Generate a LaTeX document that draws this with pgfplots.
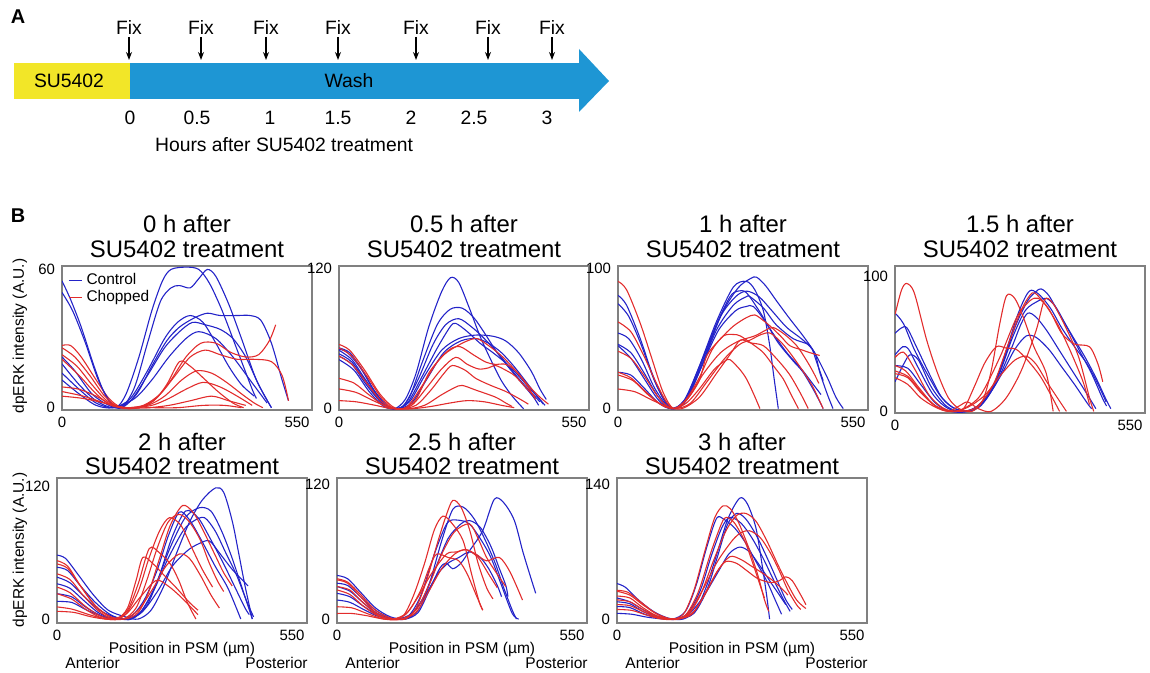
\documentclass[border=0pt]{standalone}
\usepackage{fontspec}
\setmainfont{Liberation Sans}
\usepackage{pgfplots}
\pgfplotsset{compat=1.18}
\usetikzlibrary{arrows.meta}
\definecolor{cblue}{RGB}{35,35,200}
\definecolor{cred}{RGB}{226,44,44}
\definecolor{suyel}{RGB}{242,230,40}
\definecolor{washb}{RGB}{30,150,212}
\newcommand{\fs}[1]{\fontsize{#1}{#1}\selectfont}

\pgfplotsset{
  psm/.style={scale only axis, width=125bp, anchor=south west,
    xmin=0, xmax=585, xtick={0,550}, major tick length=0pt,
    axis line style={draw=gray, line width=0.6pt},
    tick label style={font=\fs{7.5}},
    /pgf/number format/assume math mode=true},
  ctlL/.style={color=cblue, line width=0.55pt, smooth, mark=none},
  chpL/.style={color=cred, line width=0.55pt, smooth, mark=none},
  ctl/.style={ctlL, forget plot},
  chp/.style={chpL, forget plot},
}

\begin{document}
\begin{tikzpicture}[x=0.5bp,y=0.5bp]
\useasboundingbox (0,0) rectangle (1150,672);

% ---------- panel A ----------
\node[font=\bfseries\fs{10}] at (18,655) {A};
\fill[suyel] (14,609) rectangle (130,573);
\fill[washb] (130,609) rectangle (580,573);
\fill[washb] (579,623) -- (609,591) -- (579,560) -- cycle;
\node[font=\fs{9.7}] at (69,591) {SU5402};
\node[font=\fs{9.7}] at (349,591) {Wash};
\foreach \x in {129,201,266,338,416,488,552}{
  \node[font=\fs{9.7}, anchor=base] at (\x,637) {Fix};
  \draw[line width=0.6pt, -{Stealth[length=4bp,width=3bp]}] (\x,635) -- (\x,612);
}
\foreach \x/\t in {130/0,197/0.5,270/1,338/1.5,411/2,474/2.5,547/3}
  \node[font=\fs{9.7}, anchor=base] at (\x,547) {\t};
\node[font=\fs{9.7}, anchor=base] at (284,520) {Hours after SU5402 treatment};

% ---------- panel B ----------
\node[font=\bfseries\fs{10}] at (18,456) {B};

% 0 h
\begin{axis}[psm, name=a1, at={(31bp,131bp)}, height=72bp, ymin=-1, ymax=61.5, ytick={0,60},
  legend style={at={(0,1)}, anchor=north west, xshift=3bp, yshift=-1.5bp, draw=none, fill=none,
    font=\fs{7.75}, row sep=-2.5bp, inner sep=0pt},
  legend cell align=left,
  legend image code/.code={\draw[#1, line width=0.6pt] (0bp,0bp) -- (6.5bp,0bp);}]
\addplot[ctlL] coordinates {(0,55)(20,47)(45,35)(75,18)(100,6)(125,0)(150,6)(180,22)(210,42)(235,55)(255,60)(290,61)(320,60)(345,54)(375,42)(410,25)(445,8)(455,4)};
\addplot[chpL] coordinates {(0,27)(20,27)(45,22)(80,12)(110,4)(140,0)(180,0)(215,3)(245,10)(275,20)(300,18)(330,13)(365,7)(400,2)(425,0)};
\legend{Control,Chopped}
\addplot[ctl] coordinates {(0,50)(25,42)(55,28)(85,12)(115,2)(140,0)(170,9)(200,28)(230,46)(255,52)(275,53)(300,52)(320,56)(340,60)(360,57)(390,45)(420,30)(455,12)(490,0)};
\addplot[ctl] coordinates {(0,22)(30,16)(70,6)(110,1)(140,0)(175,6)(210,18)(245,29)(275,35)(310,39)(340,41)(370,40)(410,40)(440,40)(465,38)(490,28)(515,12)(530,3)};
\addplot[ctl] coordinates {(0,19)(40,10)(80,3)(120,0)(160,3)(200,14)(240,26)(275,33)(305,37)(335,36)(370,34)(400,30)(430,22)(460,10)(490,0)};
\addplot[ctl] coordinates {(0,15)(40,8)(80,2)(120,0)(160,4)(200,16)(240,30)(270,37)(300,40)(330,37)(360,28)(390,18)(420,10)(450,5)};
\addplot[ctl] coordinates {(0,12)(40,6)(80,1)(120,0)(170,4)(210,12)(250,22)(290,30)(320,33)(360,30)(400,22)(440,12)(480,2)};
\addplot[chp] coordinates {(0,26)(30,22)(65,14)(100,5)(135,0)(180,0)(220,4)(255,12)(290,22)(325,28)(360,28)(395,24)(430,22)(460,23)(485,29)(500,36)};
\addplot[chp] coordinates {(0,23)(35,18)(70,10)(105,3)(140,0)(190,1)(230,6)(265,14)(300,22)(335,25)(370,23)(410,21)(450,21)(490,20)(515,14)(530,3)};
\addplot[chp] coordinates {(0,21)(40,14)(80,6)(115,1)(150,0)(200,1)(240,5)(280,12)(315,16)(350,15)(385,11)(420,6)(450,2)(470,0)};
\addplot[chp] coordinates {(0,9)(40,8)(80,5)(120,1)(160,0)(210,1)(250,4)(290,8)(330,11)(370,9)(410,5)(445,1)};
\addplot[chp] coordinates {(0,7)(50,5)(100,2)(140,0)(200,0)(250,1)(300,3)(350,5)(390,3)(430,1)};
\addplot[chp] coordinates {(0,5)(50,4)(100,2)(150,0)(210,0)(270,0)(330,1)(380,1)(420,0)};
\end{axis}

% 0.5 h
\begin{axis}[psm, name=a2, at={(169.5bp,131bp)}, height=72bp, ymin=-1, ymax=122, ytick={0,120}]
\addplot[ctl] coordinates {(0,51)(20,48)(50,35)(80,17)(110,3)(130,0)(155,8)(180,30)(210,70)(240,100)(261,112)(280,108)(305,86)(330,62)(355,42)(380,24)(405,11)(432,0)};
\addplot[ctl] coordinates {(0,52)(25,48)(55,33)(85,14)(115,2)(140,0)(165,10)(195,40)(230,72)(260,85)(288,86)(315,78)(340,65)(370,48)(400,34)(430,21)(455,10)(467,3)};
\addplot[ctl] coordinates {(0,50)(30,42)(60,26)(95,8)(125,0)(150,2)(185,25)(220,55)(250,72)(280,77)(310,70)(340,60)(380,44)(420,26)(450,14)(470,6)};
\addplot[ctl] coordinates {(0,45)(30,38)(65,20)(100,5)(130,0)(160,5)(195,28)(230,52)(260,70)(273,73)(300,66)(330,56)(360,48)(400,36)(440,20)(470,8)(482,3)};
\addplot[ctl] coordinates {(0,47)(30,40)(65,22)(100,5)(130,0)(165,6)(200,28)(240,50)(280,60)(320,63)(360,62)(390,58)(420,48)(450,32)(470,17)(485,8)};
\addplot[ctl] coordinates {(0,42)(35,33)(70,15)(105,2)(135,0)(170,5)(205,25)(245,48)(285,58)(320,60)(350,56)(380,48)(410,36)(440,22)(465,10)(478,4)};
\addplot[chp] coordinates {(0,55)(25,50)(60,33)(95,13)(125,2)(150,0)(180,8)(211,31)(245,46)(273,53)(300,58)(323,60)(350,54)(381,45)(410,34)(443,20)(470,10)(490,4)};
\addplot[chp] coordinates {(0,52)(30,45)(65,28)(100,9)(130,0)(160,2)(195,20)(230,40)(260,51)(284,53)(315,46)(343,40)(365,38)(390,38)(415,32)(440,20)(460,8)};
\addplot[chp] coordinates {(0,45)(30,38)(65,22)(100,6)(135,0)(170,3)(205,18)(240,34)(273,44)(300,38)(327,34)(350,35)(366,37)(390,33)(412,28)(440,17)(459,10)};
\addplot[chp] coordinates {(0,26)(35,22)(70,12)(105,3)(140,0)(180,3)(215,16)(245,30)(265,37)(295,33)(320,26)(355,20)(389,15)(420,9)(443,4)};
\addplot[chp] coordinates {(0,17)(40,14)(80,7)(120,1)(160,0)(200,3)(240,12)(270,18)(288,20)(320,16)(366,10)(390,5)(405,2)};
\addplot[chp] coordinates {(0,7)(40,6)(85,3)(125,0)(170,0)(215,2)(260,5)(300,7)(340,6)(380,3)(410,1)};
\end{axis}

% 1 h
\begin{axis}[psm, name=a3, at={(309bp,131bp)}, height=72bp, ymin=-1, ymax=102, ytick={0,100}]
\addplot[ctl] coordinates {(0,81)(20,74)(52,50)(80,25)(105,8)(130,0)(160,8)(190,30)(230,62)(270,87)(300,91)(320,85)(340,70)(355,45)(365,22)(375,0)};
\addplot[ctl] coordinates {(0,75)(25,66)(55,45)(85,20)(110,5)(130,0)(160,6)(195,30)(240,66)(280,86)(310,93)(324,94)(345,88)(371,77)(400,65)(433,52)(460,40)(490,22)(510,8)(527,0)};
\addplot[ctl] coordinates {(0,54)(25,50)(55,35)(85,15)(115,2)(135,0)(165,10)(200,36)(240,66)(275,80)(301,84)(330,80)(360,70)(395,58)(433,49)(460,40)(472,26)(490,10)(503,0)};
\addplot[ctl] coordinates {(0,46)(30,40)(60,26)(95,8)(125,0)(155,4)(190,26)(230,56)(270,74)(300,80)(309,80)(340,72)(370,60)(410,50)(449,45)(465,33)(480,20)};
\addplot[ctl] coordinates {(0,45)(30,36)(60,22)(95,6)(125,0)(155,5)(195,30)(235,56)(275,70)(300,73)(317,73)(345,62)(375,47)(410,34)(433,26)(460,12)(480,0)};
\addplot[ctl] coordinates {(0,26)(30,24)(60,15)(95,4)(125,0)(155,6)(190,30)(230,60)(262,80)(280,84)(300,83)(330,70)(360,55)(395,40)(430,28)(455,18)(475,10)};
\addplot[chp] coordinates {(0,91)(20,85)(52,61)(80,35)(105,12)(130,0)(160,6)(190,20)(208,38)(240,50)(270,59)(300,65)(320,67)(340,63)(356,59)(380,52)(402,45)(430,42)(449,40)(472,38)};
\addplot[chp] coordinates {(0,62)(30,55)(60,38)(90,18)(115,4)(135,0)(165,8)(200,25)(240,40)(280,48)(320,52)(345,56)(363,58)(390,53)(418,45)(440,35)(457,26)(470,18)};
\addplot[chp] coordinates {(0,41)(30,36)(60,24)(95,8)(125,0)(155,5)(190,22)(220,42)(247,52)(270,53)(286,52)(315,46)(340,40)(365,30)(387,21)(405,10)(422,0)};
\addplot[chp] coordinates {(0,26)(30,22)(65,12)(100,3)(130,0)(160,4)(190,14)(225,28)(250,34)(262,35)(285,28)(301,21)(318,10)(332,0)};
\addplot[chp] coordinates {(0,24)(35,20)(70,10)(105,2)(135,0)(170,4)(210,20)(250,36)(285,46)(309,49)(335,53)(356,54)(380,48)(402,40)(430,28)(455,16)(480,0)};
\addplot[chp] coordinates {(0,14)(40,12)(80,6)(120,1)(150,0)(190,8)(230,25)(265,40)(286,49)(310,47)(340,45)(370,36)(400,25)(425,12)(445,0)};
\end{axis}

% 1.5 h
\begin{axis}[psm, name=a4, at={(447.5bp,129.5bp)}, height=73.5bp, ymin=-1.2, ymax=108, ytick={0,100}]
\addplot[ctl] coordinates {(0,73)(20,65)(45,46)(75,28)(105,12)(135,3)(170,0)(200,4)(230,18)(260,45)(285,70)(305,85)(319,90)(340,86)(365,76)(390,62)(420,48)(450,35)(475,20)(494,7)};
\addplot[ctl] coordinates {(0,58)(15,62)(28,62)(50,48)(80,28)(110,10)(140,2)(175,0)(210,8)(245,30)(280,62)(310,82)(330,89)(342,91)(360,86)(385,72)(415,56)(445,40)(470,25)(495,8)(505,2)};
\addplot[ctl] coordinates {(0,42)(18,48)(32,46)(55,32)(90,12)(125,2)(165,0)(200,6)(240,25)(275,55)(305,75)(335,82)(354,84)(375,78)(400,64)(430,46)(460,28)(485,10)(495,4)};
\addplot[ctl] coordinates {(0,22)(20,35)(35,42)(55,38)(85,18)(120,4)(155,0)(195,4)(235,20)(270,45)(295,65)(311,73)(330,70)(355,60)(385,45)(415,30)(445,15)(470,2)};
\addplot[ctl] coordinates {(0,34)(30,32)(60,20)(95,6)(130,0)(170,0)(210,8)(250,28)(280,46)(307,56)(330,55)(360,46)(390,33)(420,20)(450,6)(460,2)};
\addplot[chp] coordinates {(0,72)(15,90)(27,95)(45,88)(74,53)(100,28)(125,10)(150,2)(180,0)(205,8)(225,30)(245,65)(261,86)(280,84)(300,70)(325,48)(354,28)(370,0)};
\addplot[chp] coordinates {(0,40)(20,44)(45,32)(80,12)(115,2)(150,0)(190,3)(230,20)(265,50)(295,75)(315,86)(327,88)(350,80)(380,65)(410,45)(440,22)(455,5)};
\addplot[chp] coordinates {(0,34)(25,30)(55,18)(90,5)(125,0)(160,2)(200,12)(245,40)(285,70)(315,82)(335,84)(360,76)(390,58)(420,50)(455,48)(475,35)(486,22)};
\addplot[chp] coordinates {(0,30)(30,26)(60,15)(95,4)(130,0)(160,2)(185,18)(210,36)(237,48)(260,47)(284,46)(310,38)(340,26)(365,12)(385,0)};
\addplot[chp] coordinates {(0,28)(30,25)(60,14)(95,4)(135,0)(170,3)(210,12)(250,28)(280,38)(307,41)(330,35)(355,22)(380,10)(401,0)};
\addplot[chp] coordinates {(0,25)(30,20)(60,10)(95,3)(125,0)(150,4)(170,7)(195,2)(225,0)(260,10)(295,30)(330,60)(350,83)(370,80)(400,62)(430,40)(455,10)(465,0)};
\end{axis}

% 2 h
\begin{axis}[psm, name=a5, at={(28.5bp,24.5bp)}, height=72.5bp, ymin=-3.6, ymax=128, ytick={0,120}]
\addplot[ctl] coordinates {(0,58)(20,55)(50,40)(85,22)(120,8)(160,2)(190,0)(220,8)(250,30)(280,60)(310,88)(340,108)(371,119)(390,115)(410,89)(425,60)(440,30)(457,0)};
\addplot[ctl] coordinates {(0,47)(25,44)(55,30)(90,15)(125,4)(160,0)(195,6)(230,30)(265,65)(300,92)(333,101)(360,98)(385,80)(410,55)(440,20)(457,0)};
\addplot[ctl] coordinates {(0,38)(30,33)(65,20)(100,8)(140,1)(175,0)(210,12)(240,40)(270,75)(301,98)(330,92)(360,72)(390,50)(415,30)(440,10)(450,4)};
\addplot[ctl] coordinates {(0,32)(30,28)(65,16)(100,5)(140,0)(175,3)(205,18)(235,45)(260,75)(286,97)(310,90)(340,70)(370,48)(400,28)(430,0)};
\addplot[ctl] coordinates {(0,23)(35,20)(70,10)(110,2)(150,0)(190,4)(225,25)(260,55)(295,80)(320,89)(345,92)(370,80)(395,60)(420,40)(445,15)(460,2)};
\addplot[ctl] coordinates {(0,16)(35,15)(70,8)(110,2)(150,0)(195,5)(235,25)(270,48)(305,62)(330,68)(356,71)(380,60)(410,45)(435,35)(447,30)};
\addplot[chp] coordinates {(0,53)(25,48)(55,30)(90,12)(125,2)(160,0)(190,6)(215,25)(240,55)(265,85)(294,103)(320,96)(345,78)(370,58)(390,42)(410,30)};
\addplot[chp] coordinates {(0,50)(25,46)(55,30)(90,12)(125,2)(155,0)(185,10)(210,35)(235,65)(260,88)(286,95)(310,88)(335,72)(355,52)(375,35)(390,25)};
\addplot[chp] coordinates {(0,41)(30,36)(60,22)(95,8)(130,0)(160,4)(190,25)(215,55)(240,80)(263,92)(290,85)(315,65)(340,45)(364,29)};
\addplot[chp] coordinates {(0,29)(30,24)(65,12)(100,3)(135,0)(165,8)(190,32)(216,64)(240,60)(265,50)(285,35)(305,15)(325,0)};
\addplot[chp] coordinates {(0,23)(35,18)(70,8)(105,1)(140,0)(165,10)(185,35)(201,56)(225,50)(250,40)(280,28)(310,15)(330,8)};
\addplot[chp] coordinates {(0,11)(35,9)(75,4)(115,0)(155,0)(190,8)(225,28)(255,48)(286,59)(310,55)(335,40)(360,22)(380,10)};
\addplot[chp] coordinates {(0,7)(40,6)(80,2)(120,0)(160,4)(195,20)(232,35)(260,30)(290,20)(315,10)(330,4)};
\end{axis}

% 2.5 h
\begin{axis}[psm, name=a6, at={(168.5bp,24.5bp)}, height=72.5bp, ymin=-3.5, ymax=126, ytick={0,120}]
\addplot[ctl] coordinates {(0,39)(25,36)(55,24)(90,10)(125,2)(160,0)(190,6)(215,25)(240,45)(255,50)(271,45)(290,50)(310,61)(341,79)(368,107)(390,104)(415,88)(435,60)(455,35)(465,23)};
\addplot[ctl] coordinates {(0,32)(25,30)(55,20)(90,8)(125,1)(160,0)(190,8)(215,30)(245,70)(271,98)(295,100)(320,90)(345,72)(370,50)(390,28)(410,8)(420,0)};
\addplot[ctl] coordinates {(0,29)(30,25)(60,15)(95,5)(130,0)(165,2)(195,20)(225,55)(250,80)(264,88)(290,88)(310,85)(335,72)(360,55)(385,30)(410,5)(425,0)};
\addplot[ctl] coordinates {(0,23)(30,20)(60,12)(95,4)(135,0)(170,3)(200,18)(230,45)(260,72)(290,85)(310,88)(335,82)(360,65)(380,45)(395,30)(400,20)};
\addplot[ctl] coordinates {(0,17)(30,15)(65,8)(100,2)(140,0)(175,5)(205,20)(235,40)(260,50)(285,55)(310,60)(335,55)(355,45)(375,30)(385,20)};
\addplot[chp] coordinates {(0,36)(25,33)(55,22)(90,8)(125,1)(160,0)(185,10)(210,35)(235,68)(255,92)(271,106)(290,100)(310,80)(330,50)(350,28)(365,18)};
\addplot[chp] coordinates {(0,35)(25,32)(55,20)(90,6)(125,0)(155,3)(180,22)(205,50)(228,80)(248,92)(270,85)(295,70)(315,40)(333,15)(341,8)};
\addplot[chp] coordinates {(0,29)(30,26)(60,15)(95,4)(130,0)(160,4)(190,20)(220,40)(256,58)(280,60)(302,62)(325,58)(350,52)(380,55)(405,42)(434,17)};
\addplot[chp] coordinates {(0,26)(30,22)(60,12)(95,3)(130,0)(165,6)(195,25)(215,45)(233,58)(260,55)(285,52)(305,40)(325,22)(341,8)};
\addplot[chp] coordinates {(0,11)(35,10)(70,5)(110,0)(150,0)(185,8)(215,30)(245,58)(275,78)(310,85)(330,72)(350,55)(375,40)(395,29)};
\addplot[chp] coordinates {(0,5)(35,5)(70,3)(110,0)(150,0)(185,6)(215,25)(245,45)(275,58)(302,62)(330,55)(355,40)(375,28)};
\end{axis}

% 3 h
\begin{axis}[psm, name=a7, at={(308.5bp,24.5bp)}, height=72.5bp, ymin=-4.1, ymax=147, ytick={0,140}]
\addplot[ctl] coordinates {(0,37)(20,33)(50,20)(85,8)(120,1)(155,0)(185,10)(210,35)(235,70)(260,105)(287,126)(305,120)(325,95)(340,55)(350,25)(357,0)};
\addplot[ctl] coordinates {(0,18)(30,16)(60,8)(95,2)(130,0)(160,8)(185,35)(210,75)(233,105)(250,104)(275,95)(300,80)(325,60)(350,40)(370,20)(385,5)};
\addplot[ctl] coordinates {(0,13)(30,12)(65,5)(100,1)(135,0)(165,6)(195,30)(220,65)(245,95)(264,106)(290,100)(315,85)(340,65)(365,42)(390,20)(405,8)};
\addplot[ctl] coordinates {(0,6)(35,5)(70,2)(110,0)(145,0)(180,6)(210,30)(235,65)(258,98)(279,110)(300,105)(325,88)(350,65)(375,40)(395,20)(410,10)};
\addplot[ctl] coordinates {(0,22)(30,18)(60,10)(95,3)(130,0)(165,4)(200,22)(235,48)(262,68)(287,75)(310,70)(335,55)(360,38)(380,25)(395,15)};
\addplot[chp] coordinates {(0,30)(25,28)(55,18)(90,6)(125,0)(155,5)(180,30)(205,70)(228,105)(248,118)(265,115)(285,100)(310,72)(330,45)(345,20)(355,8)};
\addplot[chp] coordinates {(0,29)(30,25)(60,15)(95,5)(130,0)(165,4)(195,25)(225,60)(255,92)(280,108)(302,110)(325,102)(350,82)(375,58)(395,40)(420,20)(442,11)};
\addplot[chp] coordinates {(0,20)(30,18)(60,10)(95,2)(130,0)(165,5)(200,30)(235,60)(270,82)(290,90)(310,92)(335,85)(360,68)(380,50)(400,30)(420,15)(430,10)};
\addplot[chp] coordinates {(0,15)(30,14)(65,7)(100,1)(140,0)(175,5)(205,25)(235,50)(264,65)(290,62)(315,55)(340,48)(365,40)(385,32)(400,25)};
\addplot[chp] coordinates {(0,10)(35,9)(70,4)(105,0)(145,0)(180,8)(210,30)(235,50)(255,60)(280,58)(305,50)(330,42)(360,38)(380,40)(395,44)(410,40)(430,25)(442,15)};
\addplot[chp] coordinates {(0,24)(30,22)(60,12)(95,3)(130,0)(160,4)(190,28)(220,70)(245,100)(256,106)(275,100)(300,80)(320,55)(335,35)(345,22)};
\end{axis}

% titles
\foreach \x/\h in {187/0,464/0.5,743/1,1020/1.5}{
  \node[anchor=base, font=\fs{12}] at (\x,439) {\h\ h after};
  \node[anchor=base, font=\fs{12}] at (\x,414) {SU5402 treatment};
}
\foreach \x/\h in {182/2,462/2.5,742/3}{
  \node[anchor=base, font=\fs{12}] at (\x,221) {\h\ h after};
  \node[anchor=base, font=\fs{12}] at (\x,197) {SU5402 treatment};
  \node[anchor=base, font=\fs{7.8}] at (\x,19) {Position in PSM (µm)};
}
\foreach \l in {57,337,617}{
  \node[anchor=base west, font=\fs{7.8}, inner sep=0pt] at (\l+8,4) {Anterior};
  \node[anchor=base east, font=\fs{7.8}, inner sep=0pt] at (\l+251,4) {Posterior};
}
\node[rotate=90, font=\fs{7.75}] at (20,336) {dpERK intensity (A.U.)};
\node[rotate=90, font=\fs{7.75}] at (20,122) {dpERK intensity (A.U.)};
\end{tikzpicture}
\end{document}
